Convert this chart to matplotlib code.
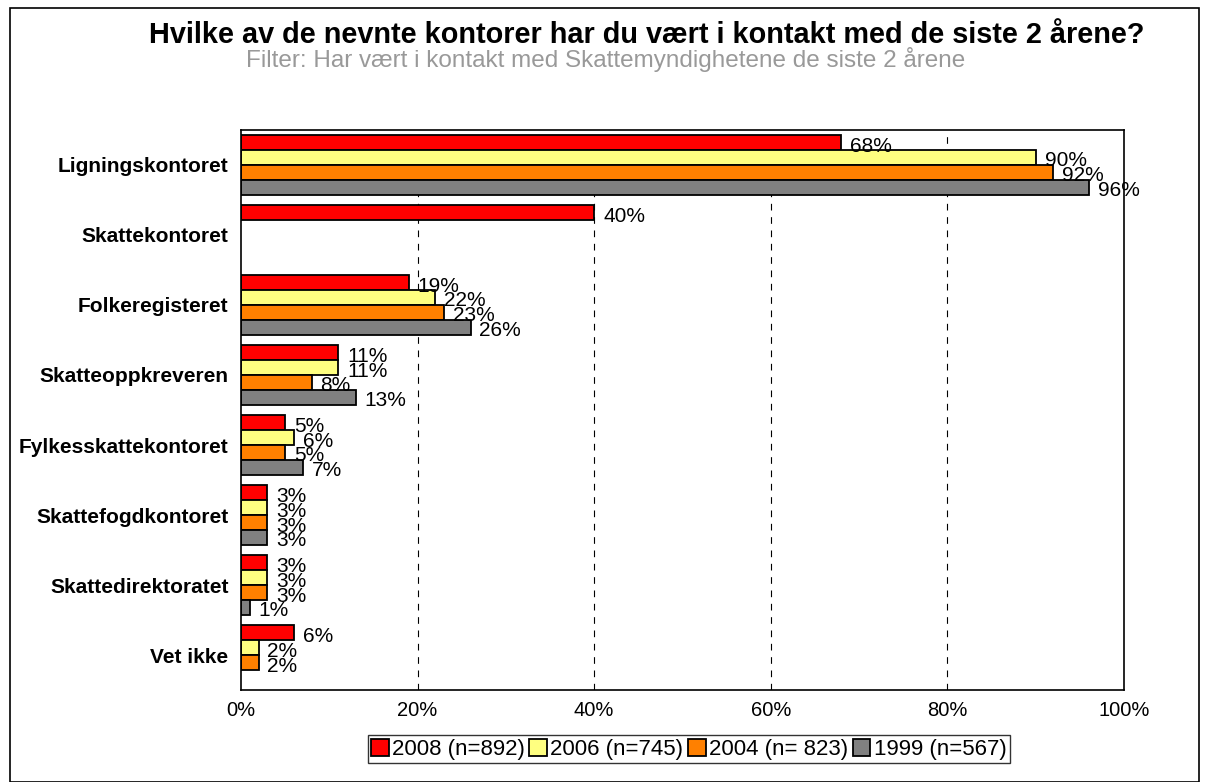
import numpy as np
import matplotlib.pyplot as plt
from matplotlib.patches import Rectangle

# Data
kategorier = ["Ligningskontoret", "Skattekontoret", "Folkeregisteret", "Skatteoppkreveren",
              "Fylkesskattekontoret", "Skattefogdkontoret", "Skattedirektoratet", "Vet ikke"]
serier = ["2008 (n=892)", "2006 (n=745)", "2004 (n= 823)", "1999 (n=567)"]
v2008 = [68, 40, 19, 11, 5, 3, 3, 6]
v2006 = [90, np.nan, 22, 11, 6, 3, 3, 2]
v2004 = [92, np.nan, 23, 8, 5, 3, 3, 2]
v1999 = [96, np.nan, 26, 13, 7, 3, 1, np.nan]
verdier = [v2008, v2006, v2004, v1999]
farger = ["#FF0000", "#FFFF80", "#FF8000", "#808080"]

plt.rcParams['font.family'] = ['Liberation Sans', 'DejaVu Sans']

fig = plt.figure(figsize=(12.06, 7.82), dpi=100)
ax = fig.add_axes([0.1998, 0.1176, 0.7322, 0.7162])

n = len(kategorier)
h = 0.214
y0 = np.arange(n)
for i, (vals, farge, navn) in enumerate(zip(verdier, farger, serier)):
    ypos = y0 - 1.5 * h + i * h
    vals = np.array(vals, dtype=float)
    ax.barh(ypos, vals, height=h, color=farge, edgecolor='black', linewidth=1.3, label=navn)
    for yy, v in zip(ypos, vals):
        if not np.isnan(v):
            ax.text(v + 1.0, yy + 0.05, f"{int(v)}%", va='center', ha='left', fontsize=15)

ax.set_xlim(0, 100)
ax.set_ylim(n - 0.5, -0.5)
ax.set_xticks([0, 20, 40, 60, 80, 100])
ax.set_xticklabels([f"{t}%" for t in [0, 20, 40, 60, 80, 100]], fontsize=14.5)
ax.set_yticks(y0)
ax.set_yticklabels(kategorier, fontsize=15, fontweight='bold')
ax.tick_params(axis='y', length=0, pad=9)
ax.tick_params(axis='x', length=0, pad=8)
for t in [20, 40, 60, 80]:
    ax.axvline(t, color='black', linestyle=(0, (6, 6)), linewidth=0.8, zorder=0)
for s in ax.spines.values():
    s.set_linewidth(1.2)

fig.text(0.536, 0.955, "Hvilke av de nevnte kontorer har du vært i kontakt med de siste 2 årene?",
         ha='center', va='center', fontsize=20.8, fontweight='bold')
fig.text(0.502, 0.924, "Filter: Har vært i kontakt med Skattemyndighetene de siste 2 årene",
         ha='center', va='center', fontsize=17.5, color='#999999')

leg = fig.legend(loc='center', bbox_to_anchor=(0.571, 0.042), ncol=4, fontsize=16,
                 frameon=True, fancybox=False, edgecolor='black', handlelength=0.8,
                 handleheight=0.8, handletextpad=0.15, columnspacing=0.2, borderpad=0.15)
leg.get_frame().set_linewidth(1.0)

fig.patches.append(Rectangle((0.008, 0.0), 0.986, 0.99, transform=fig.transFigure,
                             fill=False, edgecolor='black', linewidth=1.2))

fig.savefig("out.png", dpi=100)
